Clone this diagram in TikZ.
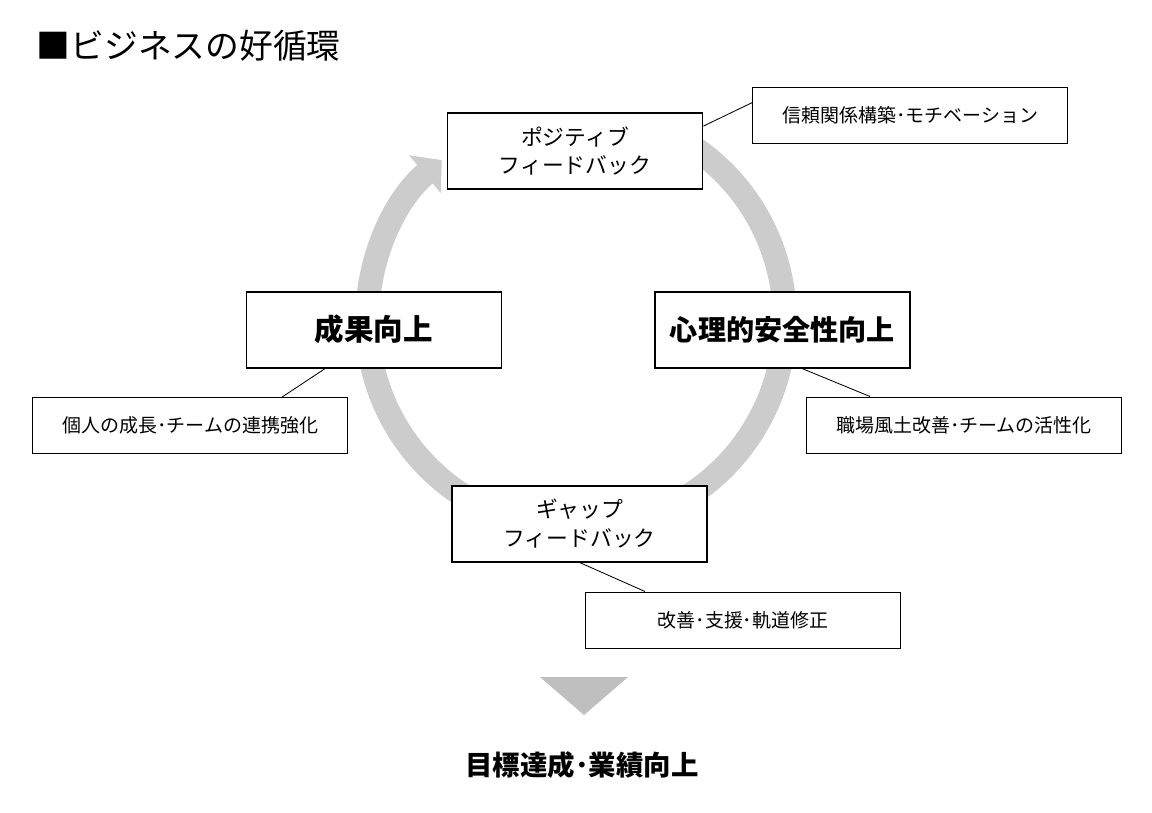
\documentclass[tikz,border=0pt]{standalone}
\usepackage{fontspec}
\setmainfont{Noto Sans CJK JP}
\usetikzlibrary{calc, positioning}
\usetikzlibrary{arrows.meta}

\begin{document}
\begin{tikzpicture}[
  stagebox/.style={draw=black, line width=1.3pt, fill=white, minimum width=6.375cm,
    minimum height=1.9cm, align=center, inner sep=0pt},
  notebox/.style={draw=black, line width=0.7pt, fill=white, minimum width=7.875cm,
    minimum height=1.4cm, inner sep=0pt, font=\fontsize{13.5}{16}\selectfont},
  leader/.style={black, line width=0.6pt},
]
\def\ringR{5.22}
\def\ringW{0.6cm}
\def\ringStart{60}
\def\ringEnd{-230}
\colorlet{ringgray}{black!20}
\colorlet{downgray}{black!25}

\useasboundingbox (-14.4,-12.325) rectangle (14.4,8.0);

% title
\node[anchor=west, font=\fontsize{24}{28}\selectfont] (title) at (-13.6,6.85) {■ビジネスの好循環};

% the ring, drawn first so the boxes sit on top of it
\draw[ringgray, line width=\ringW, -{Triangle[width=1.2cm, length=0.55cm]}]
  (\ringStart:\ringR) arc[start angle=\ringStart, end angle=\ringEnd, radius=\ringR];

% four stages
\node[stagebox, font=\fontsize{15.5}{20}\selectfont] (pos) at (-0.025,4.225) {ポジティブ\\フィードバック};
\node[stagebox, font=\bfseries\fontsize{20}{24}\selectfont] (safe) at (5.16,-0.24) {心理的安全性向上};
\node[stagebox, font=\fontsize{15.5}{20}\selectfont] (gap) at (0.09,-5.09) {ギャップ\\フィードバック};
\node[stagebox, font=\bfseries\fontsize{21}{24}\selectfont] (perf) at (-5.05,-0.24) {成果向上};

% notes
\node[notebox] (posnote) at (8.36,5.125) {信頼関係構築･モチベーション};
\node[notebox] (safenote) at (9.7,-2.625) {職場風土改善･チームの活性化};
\node[notebox] (gapnote) at (4.175,-7.5) {改善･支援･軌道修正};
\node[notebox] (perfnote) at (-9.64,-2.64) {個人の成長･チームの連携強化};

\draw[leader] ($(pos.north east)+(0,-0.35)$) -- ($(posnote.north west)+(0,-0.4)$);
\draw[leader] ($(safe.south)+(0.49,0)$) -- ($(safenote.north)+(-2.35,0)$);
\draw[leader] (gap.south) -- ($(gapnote.north)+(-2.45,0)$);
\draw[leader] ($(perf.south)+(-1.22,0)$) -- ($(perfnote.north)+(2.29,0)$);

% result
\fill[downgray] (-0.9,-8.925) -- (1.3,-8.925) -- (0.2,-9.875) -- cycle;
\node[font=\bfseries\fontsize{19.5}{24}\selectfont] (goal) at (0.15,-11.125) {目標達成･業績向上};
\end{tikzpicture}
\end{document}
